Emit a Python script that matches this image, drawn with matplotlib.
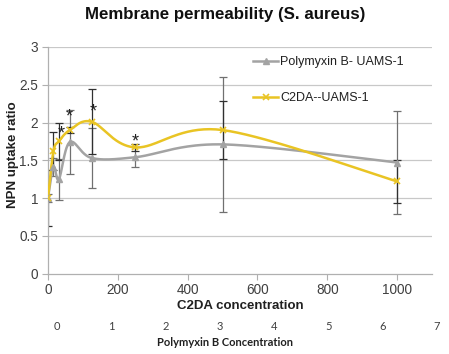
import numpy as np
import matplotlib
matplotlib.use("Agg")
import matplotlib.pyplot as plt

# ---- data ----
conc = [0, 15.6, 31.25, 62.5, 125, 250, 500, 1000]
poly_vals = [1.00, 1.41, 1.25, 1.74, 1.53, 1.54, 1.71, 1.47]
poly_err = [0.05, 0.12, 0.27, 0.42, 0.40, 0.13, 0.89, 0.68]
c2da_vals = [1.00, 1.62, 1.75, 1.90, 2.01, 1.67, 1.90, 1.22]
c2da_err = [0.37, 0.25, 0.25, 0.04, 0.43, 0.05, 0.38, 0.28]
star_x = [37, 60, 130, 251]
star_y = [1.91, 2.14, 2.20, 1.81]
poly_ticks = [0, 1, 2, 3, 4, 5, 6, 7]
series_names = ["Polymyxin B- UAMS-1", "C2DA--UAMS-1"]

GRAY = "#a3a3a3"
YELLOW = "#e9c424"
TXT = "#404040"
FONT = "Liberation Sans"

W, H = 449, 354
fig = plt.figure(figsize=(W / 100, H / 100), dpi=100)

L, R, T, B = 48, 432, 47, 273.5
ax = fig.add_axes([L / W, 1 - B / H, (R - L) / W, (B - T) / H])
ax.set_xlim(0, 1100)
ax.set_ylim(0, 3)

sx = (R - L) / 1100.0
sy = (B - T) / 3.0


def smooth(xs, ys, n=40):
    px = np.array(xs) * sx
    py = np.array(ys) * sy
    P = np.column_stack([px, py])
    P = np.vstack([P[0], P, P[-1]])
    out = []
    for i in range(1, len(P) - 2):
        p0, p1, p2, p3 = P[i - 1], P[i], P[i + 1], P[i + 2]
        c1 = p1 + (p2 - p0) / 6.0
        c2 = p2 - (p3 - p1) / 6.0
        t = np.linspace(0, 1, n)[:, None]
        seg = ((1 - t) ** 3) * p1 + 3 * ((1 - t) ** 2) * t * c1 + 3 * (1 - t) * t ** 2 * c2 + t ** 3 * p2
        out.append(seg if i == 1 else seg[1:])
    out = np.vstack(out)
    return out[:, 0] / sx, out[:, 1] / sy


for v in np.arange(0.5, 3.01, 0.5):
    ax.axhline(v, color="#c8c8c8", lw=0.9, zorder=0)

# error bars
ax.errorbar(conc, poly_vals, yerr=poly_err, fmt="none", ecolor="#707070", elinewidth=0.9,
            capsize=3, capthick=0.9, zorder=2)
ax.errorbar(conc, c2da_vals, yerr=c2da_err, fmt="none", ecolor="#303030", elinewidth=0.9,
            capsize=3, capthick=0.9, zorder=2)

gx, gy = smooth(conc, poly_vals)
ax.plot(gx, gy, color=GRAY, lw=1.8, zorder=3)
ax.plot(conc, poly_vals, ls="none", marker="^", ms=4.5, color=GRAY, zorder=4)
yx, yy = smooth(conc, c2da_vals)
ax.plot(yx, yy, color=YELLOW, lw=1.8, zorder=3)
ax.plot(conc, c2da_vals, ls="none", marker="x", ms=4, mew=1.2, color=YELLOW, zorder=4)

for x, y in zip(star_x, star_y):
    ax.annotate("*", (x, y), xytext=(0, -3.5), textcoords="offset points", ha="center", va="center",
                fontsize=13, color="#202020", family=FONT)

# legend handles
h1, = ax.plot([], [], color=GRAY, lw=1.8, marker="^", ms=4.5)
h2, = ax.plot([], [], color=YELLOW, lw=1.8, marker="x", ms=4, mew=1.2)
ax.legend([h1, h2], series_names, loc="upper left", bbox_to_anchor=(0.505, 1.01),
          frameon=False, labelspacing=1.95, handlelength=2.0, handletextpad=0.15,
          prop={"family": FONT, "size": 9}, labelcolor="#202020")

ax.set_xticks([0, 200, 400, 600, 800, 1000])
ax.set_yticks([0, 0.5, 1, 1.5, 2, 2.5, 3])
ax.set_yticklabels(["0", "0.5", "1", "1.5", "2", "2.5", "3"])
ax.tick_params(axis="both", direction="out", length=4, width=0.8, color="#b0b0b0",
               labelsize=9.8, labelcolor=TXT, pad=3)
for lab in ax.get_xticklabels() + ax.get_yticklabels():
    lab.set_family(FONT)
for s in ["top", "right"]:
    ax.spines[s].set_visible(False)
for s in ["left", "bottom"]:
    ax.spines[s].set_color("#b0b0b0")
    ax.spines[s].set_linewidth(0.9)

ax.set_xlabel("C2DA concentration", family=FONT, fontweight="bold", fontsize=9.5, color="#202020", labelpad=2)
ax.set_ylabel("NPN uptake ratio", family=FONT, fontweight="bold", fontsize=9.5, color="#202020")
ax.yaxis.set_label_coords(13 / W, 1 - 155 / H, transform=fig.transFigure)
ax.yaxis.label.set_va("center")

fig.text(225 / W, 1 - 15 / H, "Membrane permeability (S. aureus)", ha="center", va="center",
         family=FONT, fontweight="bold", fontsize=12.2, color="#101010")

# secondary axis
ax2 = fig.add_axes([57 / W, 1 - 318 / H, 380 / W, 0.001])
ax2.set_xlim(0, 7)
ax2.set_xticks(poly_ticks)
ax2.set_yticks([])
ax2.tick_params(axis="x", length=0, labelsize=8, labelcolor=TXT, pad=2)
for lab in ax2.get_xticklabels():
    lab.set_family("Lato")
for s in ax2.spines.values():
    s.set_visible(False)
ax2.patch.set_visible(False)
ax2.set_xlabel("Polymyxin B Concentration", family="Lato", fontweight="bold", fontsize=8, color="#202020")
ax2.xaxis.set_label_coords(225 / W, 1 - 343 / H, transform=fig.transFigure)
ax2.xaxis.label.set_va("center")

fig.savefig("out.png", dpi=100)
